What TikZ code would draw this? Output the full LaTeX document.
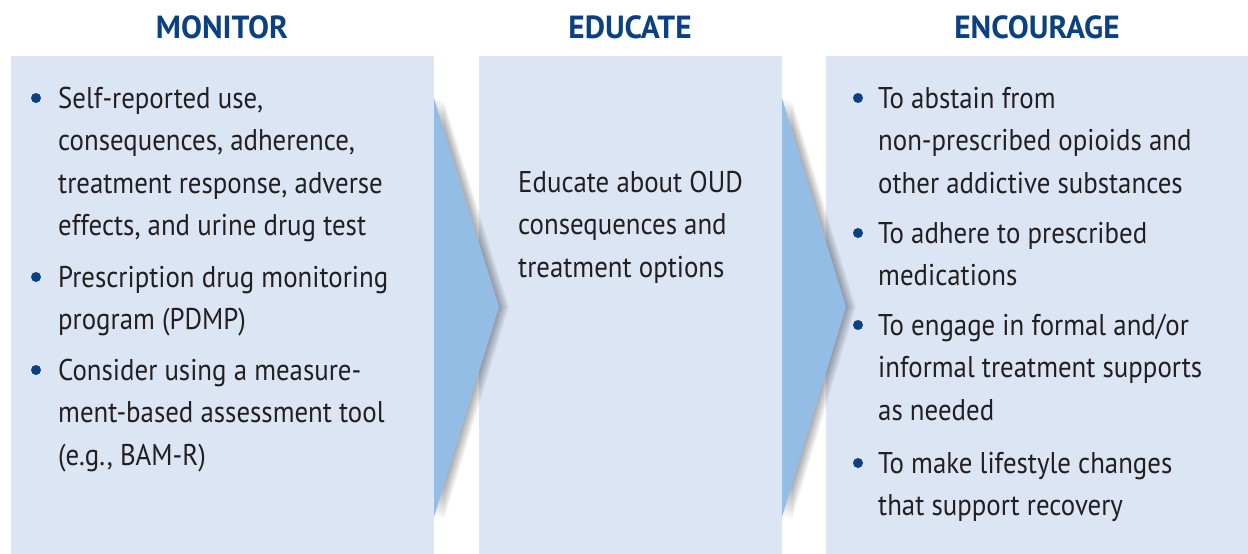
\documentclass[tikz,border=0pt]{standalone}
\usepackage{fontspec}
\setmainfont{PT Sans}
\newfontfamily\bodyfont[FakeStretch=0.895]{PT Sans}
\newfontfamily\headfont[FakeStretch=0.98]{PT Sans Bold}
\definecolor{panelfill}{HTML}{DBE5F4}
\definecolor{arrowfill}{HTML}{94BDE5}
\definecolor{darkblue}{HTML}{0B4182}
\definecolor{bodytext}{HTML}{231F20}
\tikzset{
  panel/.style={fill=panelfill},
  chevron/.style={fill=arrowfill},
  heading/.style={anchor=base, inner sep=0pt, text=darkblue, font=\headfont\fontsize{32}{36}\selectfont},
  item/.style={anchor=base west, inner sep=0pt, text=bodytext, font=\bodyfont\fontsize{30}{42.5}\selectfont},
  dot/.style={circle, fill=darkblue, inner sep=0pt, minimum size=10pt}
}
\newcommand{\lines}[1]{\parbox[t]{380pt}{\baselineskip=42.5pt #1}}
\begin{document}
\begin{tikzpicture}[x=1pt,y=-1pt]
\useasboundingbox (0,0) rectangle (1248,554);
\fill[white] (0,0) rectangle (1248,554);
% panels
\fill[panel] (11,56) rectangle (434,554);
\fill[panel] (479,56) rectangle (782,554);
\fill[panel] (826,56) rectangle (1248,554);
% chevron shadows
\foreach \d in {1,...,10}{
  \fill[black, opacity=0.035] (434+\d,98+0.3*\d) -- (499+\d,307) -- (434+\d,517+0.3*\d) -- cycle;
  \fill[black, opacity=0.035] (782+\d,98+0.3*\d) -- (846+\d,307) -- (782+\d,517+0.3*\d) -- cycle;
}
% chevrons
\fill[chevron] (434,98) -- (499,307) -- (434,517) -- cycle;
\fill[chevron] (782,98) -- (846,307) -- (782,517) -- cycle;
% headings
\node[heading] (hmon) at (222,38) {MONITOR};
\node[heading] (hedu) at (630,38) {EDUCATE};
\node[heading] (henc) at (1037,38) {ENCOURAGE};
% monitor
\node[dot] (b1) at (36,98) {};
\node[item] (m1) at (58,108) {\lines{Self-reported use,\\consequences, adherence,\\treatment response, adverse\\effects, and urine drug test}};
\node[dot] (b2) at (36,277) {};
\node[item] (m2) at (58,287) {\lines{Prescription drug monitoring\\program (PDMP)}};
\node[dot] (b3) at (36,370) {};
\node[item] (m3) at (58,380) {\lines{Consider using a measure-\\ment-based assessment tool\\(e.g., BAM-R)}};
% educate
\node[item] (e1) at (518,192) {\lines{Educate about OUD\\consequences and\\treatment options}};
% encourage
\node[dot] (c1d) at (858,98) {};
\node[item] (c1) at (878,108) {\lines{To abstain from\\non-prescribed opioids and\\other addictive substances}};
\node[dot] (c2d) at (858,233) {};
\node[item] (c2) at (878,243) {\lines{To adhere to prescribed\\medications}};
\node[dot] (c3d) at (858,325) {};
\node[item] (c3) at (878,335) {\lines{To engage in formal and/or\\informal treatment supports\\as needed}};
\node[dot] (c4d) at (858,463) {};
\node[item] (c4) at (878,473) {\lines{To make lifestyle changes\\that support recovery}};
\end{tikzpicture}
\end{document}
